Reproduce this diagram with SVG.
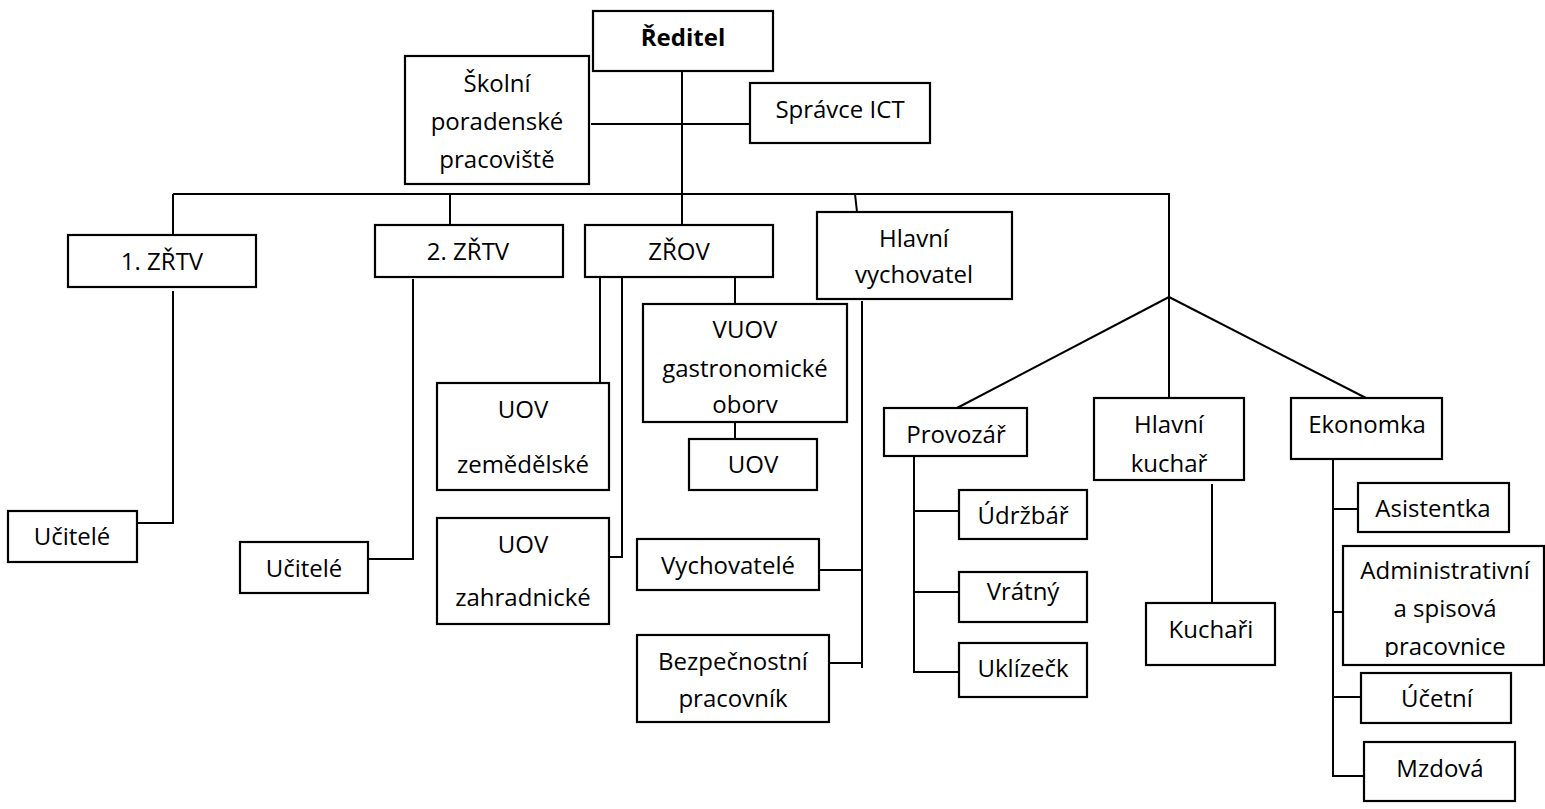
<svg xmlns="http://www.w3.org/2000/svg" width="1545" height="809" viewBox="0 0 1545 809">
<style>
.b{fill:#fff;stroke:#000;stroke-width:2.2}
.t{font-family:"Open Sans","Noto Sans","Liberation Sans",sans-serif;font-size:24px;fill:#000;text-anchor:middle}
.c{fill:none;stroke:#000;stroke-width:2}
</style>
<defs>
<clipPath id="clipAdm"><rect x="1343" y="546" width="202" height="111"/></clipPath>
</defs>
<rect width="1545" height="809" fill="#fff"/>
<g id="connectors">
<path class="c" d="M682 71V225"/>
<path class="c" d="M591 124H750"/>
<path class="c" d="M173 194H1169V398"/>
<path class="c" d="M173 194V235"/>
<path class="c" d="M450 194V225"/>
<path class="c" d="M855 194L857 212"/>
<path class="c" d="M1169 297L957 408"/>
<path class="c" d="M1169 297L1366 398"/>
<path class="c" d="M173 291V523H137"/>
<path class="c" d="M413 279V559H368"/>
<path class="c" d="M600 277V383"/>
<path class="c" d="M622 277V557H609"/>
<path class="c" d="M735 277V304"/>
<path class="c" d="M735 419V439"/>
<path class="c" d="M862 301V668"/>
<path class="c" d="M819 570H862"/>
<path class="c" d="M829 663H862"/>
<path class="c" d="M914 456V672H959"/>
<path class="c" d="M914 511H959"/>
<path class="c" d="M914 592H959"/>
<path class="c" d="M1212 484V603"/>
<path class="c" d="M1333 459V776H1364"/>
<path class="c" d="M1332 509H1358"/>
<path class="c" d="M1333 612H1343"/>
<path class="c" d="M1333 697H1361"/>
</g>
<g id="reditel"><rect class="b" x="593" y="11" width="180" height="60"/><text class="t" x="683" y="46" font-weight="bold">Ředitel</text></g>
<g id="skolni"><rect class="b" x="405" y="56" width="184" height="128"/><text class="t" x="497" y="92">Školní</text><text class="t" x="497" y="130">poradenské</text><text class="t" x="497" y="168">pracoviště</text></g>
<g id="spravce"><rect class="b" x="750" y="83" width="180" height="60"/><text class="t" x="840" y="118">Správce ICT</text></g>
<g id="zrtv1"><rect class="b" x="68" y="235" width="188" height="52"/><text class="t" x="162" y="270">1. ZŘTV</text></g>
<g id="zrtv2"><rect class="b" x="375" y="225" width="188" height="52"/><text class="t" x="468" y="260">2. ZŘTV</text></g>
<g id="zrov"><rect class="b" x="585" y="225" width="188" height="52"/><text class="t" x="679" y="260">ZŘOV</text></g>
<g id="hlavni-vychovatel"><rect class="b" x="817" y="212" width="195" height="87"/><text class="t" x="914" y="247">Hlavní</text><text class="t" x="914" y="283">vychovatel</text></g>
<g id="ucitele1"><rect class="b" x="8" y="511" width="129" height="51"/><text class="t" x="72" y="545">Učitelé</text></g>
<g id="ucitele2"><rect class="b" x="240" y="542" width="128" height="51"/><text class="t" x="304" y="577">Učitelé</text></g>
<g id="uov-zem"><rect class="b" x="437" y="383" width="172" height="107"/><text class="t" x="523" y="418">UOV</text><text class="t" x="523" y="473">zemědělské</text></g>
<g id="uov-zah"><rect class="b" x="437" y="518" width="172" height="106"/><text class="t" x="523" y="553">UOV</text><text class="t" x="523" y="606">zahradnické</text></g>
<g id="vuov"><rect class="b" x="643" y="304" width="204" height="118"/><text class="t" x="745" y="338">VUOV</text><text class="t" x="745" y="377">gastronomické</text><text class="t" x="745" y="413">oborv</text></g>
<g id="uov"><rect class="b" x="689" y="439" width="128" height="51"/><text class="t" x="753" y="473">UOV</text></g>
<g id="vychovatele"><rect class="b" x="637" y="539" width="182" height="51"/><text class="t" x="728" y="574">Vychovatelé</text></g>
<g id="bezpecnostni"><rect class="b" x="637" y="635" width="192" height="87"/><text class="t" x="733" y="670">Bezpečnostní</text><text class="t" x="733" y="707">pracovník</text></g>
<g id="provozar"><rect class="b" x="884" y="408" width="143" height="48"/><text class="t" x="956" y="443">Provozář</text></g>
<g id="udrzbar"><rect class="b" x="959" y="490" width="128" height="49"/><text class="t" x="1023" y="524">Údržbář</text></g>
<g id="vratny"><rect class="b" x="959" y="572" width="128" height="50"/><text class="t" x="1023" y="600">Vrátný</text></g>
<g id="uklizecka"><rect class="b" x="959" y="643" width="128" height="54"/><text class="t" x="1023" y="677">Uklízečk</text></g>
<g id="hlavni-kuchar"><rect class="b" x="1094" y="398" width="150" height="82"/><text class="t" x="1169" y="433">Hlavní</text><text class="t" x="1169" y="472">kuchař</text></g>
<g id="kuchari"><rect class="b" x="1146" y="603" width="129" height="62"/><text class="t" x="1211" y="638">Kuchaři</text></g>
<g id="ekonomka"><rect class="b" x="1291" y="398" width="151" height="61"/><text class="t" x="1367" y="433">Ekonomka</text></g>
<g id="asistentka"><rect class="b" x="1358" y="483" width="151" height="49"/><text class="t" x="1433" y="517">Asistentka</text></g>
<g id="administrativni"><rect class="b" x="1343" y="546" width="201" height="119"/><g clip-path="url(#clipAdm)"><text class="t" x="1445" y="579">Administrativní</text><text class="t" x="1445" y="617">a spisová</text><text class="t" x="1445" y="655">pracovnice</text></g></g>
<g id="ucetni"><rect class="b" x="1361" y="673" width="150" height="50"/><text class="t" x="1437" y="707">Účetní</text></g>
<g id="mzdova"><rect class="b" x="1364" y="742" width="151" height="59"/><text class="t" x="1440" y="777">Mzdová</text></g>
</svg>
